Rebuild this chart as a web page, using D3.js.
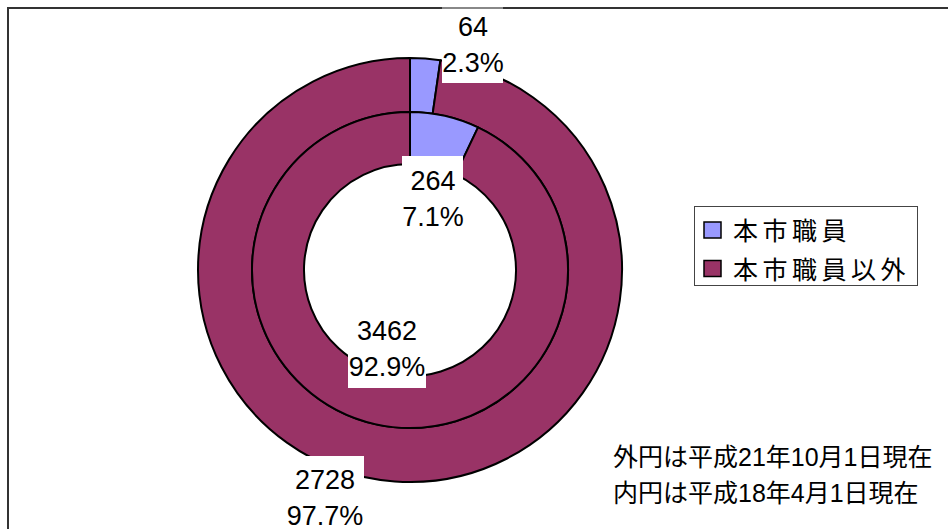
<!DOCTYPE html>
<html>
<head>
<meta charset="utf-8">
<script src="https://cdn.jsdelivr.net/npm/d3@7"></script>
<style>
  html, body { margin: 0; padding: 0; background: #fff; }
  svg { display: block; }
  text { font-family: "Liberation Sans", Arial, "Noto Sans CJK JP", sans-serif; fill: #000; }
</style>
</head>
<body>
<svg id="chart" width="948" height="529"></svg>
<script>
// ---- data ----
const categories = ["本市職員", "本市職員以外"];
const outerValues = [64, 2728];     // 平成21年10月1日現在
const innerValues = [264, 3462];    // 平成18年4月1日現在
const colors = ["#9999FF", "#993366"];
const notes = ["外円は平成21年10月1日現在", "内円は平成18年4月1日現在"];

// ---- layout ----
const W = 948, H = 529;
const cx = 410, cy = 270;
const rOuter = 212, rMid = 158, rInner = 106;

const svg = d3.select("#chart");

// frame
svg.append("line").attr("x1", 7).attr("x2", W).attr("y1", 8).attr("y2", 8)
  .attr("stroke", "#333").attr("stroke-width", 2);
svg.append("line").attr("x1", 8).attr("x2", 8).attr("y1", 7).attr("y2", H)
  .attr("stroke", "#333").attr("stroke-width", 2);

const pie = d3.pie().sort(null).startAngle(0).endAngle(2 * Math.PI);
const color = d3.scaleOrdinal().domain(categories).range(colors);
const fmtPct = d3.format(".1%");

const g = svg.append("g").attr("transform", `translate(${cx},${cy})`);

function ring(values, r0, r1) {
  const total = d3.sum(values);
  const arcs = pie(values).map((a, i) => Object.assign(a, { cat: categories[i], total }));
  const arc = d3.arc().innerRadius(r0).outerRadius(r1);
  g.selectAll(null).data(arcs).enter().append("path")
    .attr("d", arc)
    .attr("fill", d => color(d.cat))
    .attr("stroke", "#000")
    .attr("stroke-width", 2)
    .attr("stroke-linejoin", "round");
  return arcs;
}
const outerArcs = ring(outerValues, rMid, rOuter);
const innerArcs = ring(innerValues, rInner, rMid);

// data labels (white boxes, two lines: value / percent)
const labelLayout = [
  { arc: outerArcs[0], x: 473, y1: 36, box: [442, 9, 61, 74] },
  { arc: innerArcs[0], x: 433, y1: 190, box: [402, 156, 61, 76] },
  { arc: innerArcs[1], x: 387, y1: 340, box: [348, 312, 78, 76] },
  { arc: outerArcs[1], x: 325, y1: 489, box: [286, 456, 78, 80] }
];
const lg = svg.append("g");
labelLayout.forEach(L => {
  lg.append("rect").attr("x", L.box[0]).attr("y", L.box[1])
    .attr("width", L.box[2]).attr("height", L.box[3]).attr("fill", "#fff");
  lg.append("text").attr("x", L.x).attr("y", L.y1).attr("text-anchor", "middle")
    .attr("font-size", 27).text(L.arc.data);
  lg.append("text").attr("x", L.x).attr("y", L.y1 + 35.5).attr("text-anchor", "middle")
    .attr("font-size", 27).text(fmtPct(L.arc.data / L.arc.total));
});
// frame segment under the top label box
svg.append("line").attr("x1", 442).attr("x2", 503).attr("y1", 8).attr("y2", 8)
  .attr("stroke", "#888").attr("stroke-width", 2);

// legend
const leg = svg.append("g");
leg.append("rect").attr("x", 694.5).attr("y", 206.5).attr("width", 223).attr("height", 79)
  .attr("fill", "#fff").attr("stroke", "#444").attr("stroke-width", 1);
categories.forEach((c, i) => {
  const yc = 230 + i * 38.5;
  leg.append("rect").attr("x", 704).attr("y", yc - 8).attr("width", 17).attr("height", 16)
    .attr("fill", color(c)).attr("stroke", "#000").attr("stroke-width", 1.5);
  leg.append("text").attr("x", 733).attr("y", yc + 10)
    .attr("font-size", 25).attr("letter-spacing", 4.5)
    .style("font-family", "'Noto Sans CJK JP', sans-serif").text(c);
});

// notes
notes.forEach((t, i) => {
  svg.append("text").attr("x", 613).attr("y", 466 + i * 36)
    .attr("font-size", 25).text(t);
});
</script>
</body>
</html>
